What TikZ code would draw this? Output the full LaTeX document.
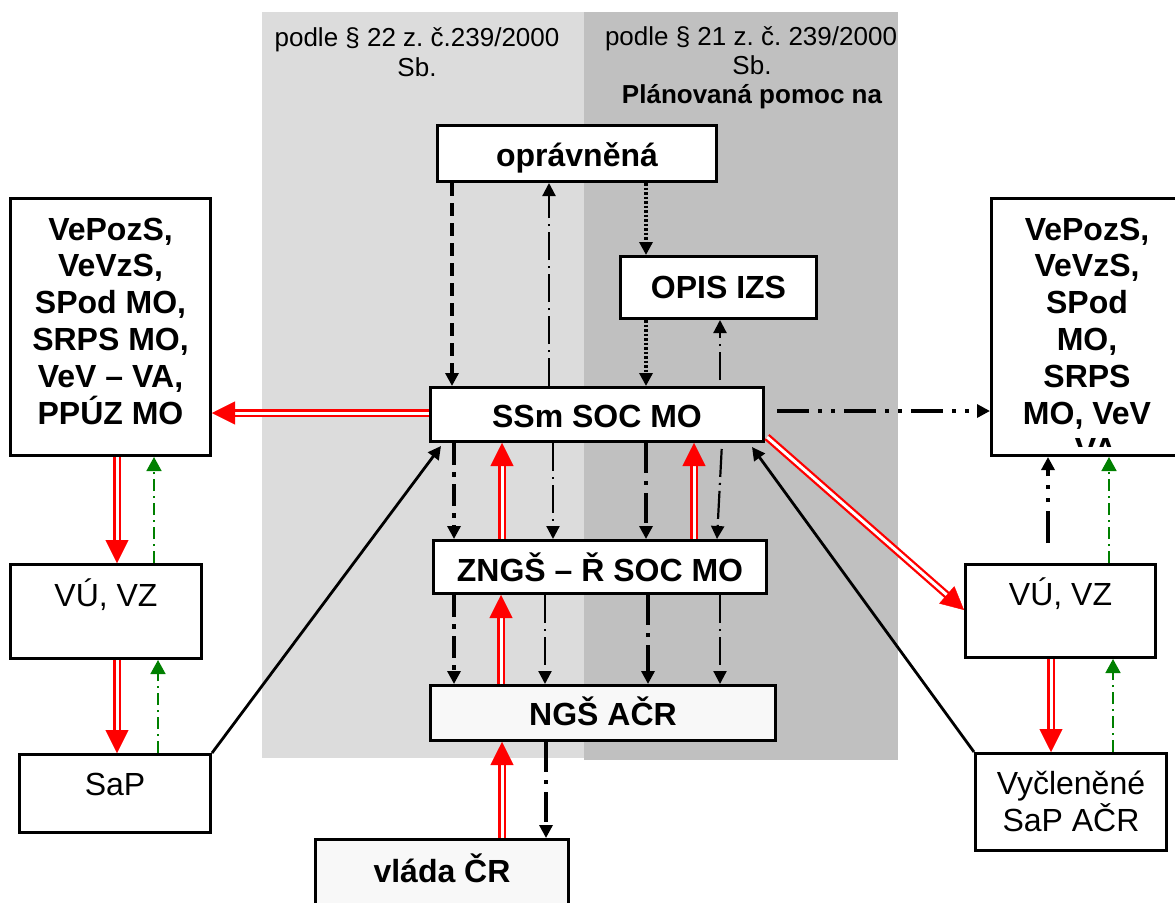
\documentclass[tikz,border=0pt]{standalone}
\usepackage{fontspec}
\setmainfont{Liberation Sans}
\usetikzlibrary{arrows.meta,decorations.markings,calc}
\definecolor{lgrey}{HTML}{DCDCDC}
\definecolor{dgrey}{HTML}{C0C0C0}
\definecolor{boxfill}{HTML}{F8F8F8}
\definecolor{dgreen}{HTML}{008000}
\definecolor{dred}{HTML}{FF0000}
\frenchspacing
\begin{document}
\begin{tikzpicture}[x=1pt,y=-1pt,
  box/.style={draw=black, line width=3pt, fill=white, rectangle, inner sep=0pt},
  gbox/.style={box, fill=boxfill},
  bt/.style={font=\fontsize{32}{36.8}\selectfont\bfseries, align=center, inner sep=0pt, anchor=base},
  rt/.style={font=\fontsize{32}{36.8}\selectfont, align=center, inner sep=0pt, anchor=base},
  ht/.style={font=\fontsize{26}{29.5}\selectfont, align=center, inner sep=0pt, anchor=base},
  blk/.style={draw=black, line width=#1, -{Triangle[length=13pt,width=13pt]}},
  dashedarr/.style={blk=3.3pt, dash pattern=on 13pt off 7pt},
  dotarr/.style={blk=4pt, dash pattern=on 2.5pt off 2pt},
  thindd/.style={blk=2.2pt, dash pattern=on 28pt off 6pt on 2pt off 6pt},
  thickdd/.style={blk=3.2pt, dash pattern=on 30pt off 8pt on 4pt off 8pt},
  meddd/.style={blk=3.2pt, dash pattern=on 22pt off 7pt on 5pt off 7pt},
  dddarr/.style={blk=3.2pt, dash pattern=on 32pt off 9pt on 4pt off 9pt on 4pt off 9pt},
  solidarr/.style={blk=2.8pt},
  greenarr/.style={draw=dgreen, line width=1.6pt, dash pattern=on 12pt off 5pt on 2pt off 5pt, -{Triangle[length=14pt,width=15pt]}},
  redarr/.style={draw=none,
    postaction={draw=dred, double=white, double distance=3pt, line width=2.3pt, shorten >=18pt},
    postaction={decorate, decoration={markings, mark=at position 1 with {\arrow{Triangle[length=23pt,width=23pt,color=dred,fill=dred]}}}}}
]
\useasboundingbox (0,0) rectangle (1175,902);

% background bands
\fill[lgrey] (262,12) rectangle (584,758);
\fill[dgrey] (584,12) rectangle (898,760);

% header texts
\node[ht] (hl1) at (417,46.7) {podle § 22 z. č.239/2000};
\node[ht] (hl2) at (417,76.5) {Sb.};
\node[ht] (hr1) at (751,45) {podle § 21 z. č. 239/2000};
\node[ht] (hr2) at (752,74) {Sb.};
\node[ht,font=\fontsize{26}{29.5}\selectfont\bfseries] (hr3) at (752,103) {Plánovaná pomoc na};

% boxes
\node[box, minimum width=279, minimum height=56] (oprav) at (577,153.5) {};
\node[box, minimum width=196, minimum height=62] (opis) at (718.5,287.5) {};
\node[box, minimum width=333, minimum height=54] (ssm) at (597,414.5) {};
\node[box, minimum width=333, minimum height=53] (zngs) at (600,567) {};
\node[gbox, minimum width=345, minimum height=55] (ngs) at (603,713) {};
\node[gbox, minimum width=253, minimum height=77] (vlada) at (442,878) {};
\node[box, minimum width=200, minimum height=257] (lbig) at (110.5,327) {};
\node[box, minimum width=191, minimum height=94] (lvu) at (106,611.5) {};
\node[box, minimum width=191, minimum height=78] (lsap) at (115,793.5) {};
\node[box, minimum width=197, minimum height=257] (rbig) at (1090,327) {};
\node[box, minimum width=190, minimum height=93] (rvu) at (1060.5,611) {};
\node[box, minimum width=191, minimum height=97] (rvyc) at (1071,802) {};

% box texts (anchor=base is the baseline of the last line)
\node[bt] (toprav) at (577,166) {oprávněná};
\node[bt] (topis) at (718.5,298) {OPIS IZS};
\node[bt] (tssm) at (597,427) {SSm SOC MO};
\node[bt] (tzngs) at (600,581) {ZNGŠ – Ř SOC MO};
\node[bt] (tngs) at (603,725) {NGŠ AČR};
\node[bt] (tvlada) at (442,882) {vláda ČR};
\node[bt] (tlbig) at (110.5,424) {VePozS,\\VeVzS,\\SPod MO,\\SRPS MO,\\VeV – VA,\\PPÚZ MO};
\begin{scope}
\clip (990,198.5) rectangle (1190,446);
\node[bt] (trbig) at (1087,460.8) {VePozS,\\VeVzS,\\SPod\\MO,\\SRPS\\MO, VeV\\– VA,};
\end{scope}
\node[rt] (tlvu) at (106,606) {VÚ, VZ};
\node[rt] (tlsap) at (115,795) {SaP};
\node[rt] (trvu) at (1060.5,605) {VÚ, VZ};
\node[rt] (trvyc) at (1071,831) {Vyčleněné\\SaP AČR};

% column coordinates
\foreach \xx in {452,454,501,502,545,546,549,553,646,648,694,717,720,722,117,154,158,1048,1051,1109,1113}
  \coordinate (x\xx) at (\xx,0);
\coordinate (y413) at (0,413);
\coordinate (y411) at (0,411);

% center column connectors
\draw[dashedarr] (oprav.south -| x452) -- (ssm.north -| x452);
\draw[thindd] (ssm.north -| x549) -- (oprav.south -| x549);
\draw[dotarr] (oprav.south -| x646) -- (opis.north -| x646);
\draw[dotarr] (opis.south -| x646) -- (ssm.north -| x646);
\draw[thindd, shorten <=6pt] (ssm.north -| x720) -- (opis.south -| x720);

\draw[meddd] (ssm.south -| x454) -- (zngs.north -| x454);
\draw[redarr] (zngs.north -| x502) -- (ssm.south -| x502);
\draw[thindd] (ssm.south -| x553) -- (zngs.north -| x553);
\draw[thickdd] (ssm.south -| x646) -- (zngs.north -| x646);
\draw[redarr] (zngs.north -| x694) -- (ssm.south -| x694);
\draw[thindd, shorten <=6pt] (ssm.south -| x722) -- (zngs.north -| x717);

\draw[meddd] (zngs.south -| x454) -- (ngs.north -| x454);
\draw[redarr] (ngs.north -| x501) -- (zngs.south -| x501);
\draw[thindd] (zngs.south -| x545) -- (ngs.north -| x545);
\draw[thickdd] (zngs.south -| x648) -- (ngs.north -| x648);
\draw[thindd] (zngs.south -| x720) -- (ngs.north -| x720);

\draw[redarr] (vlada.north -| x502) -- (ngs.south -| x502);
\draw[thickdd] (ngs.south -| x546) -- (vlada.north -| x546);

% left side
\draw[redarr] (ssm.west |- y413) -- (lbig.east |- y413);
\draw[redarr] (lbig.south -| x117) -- (lvu.north -| x117);
\draw[greenarr] (lvu.north -| x154) -- (lbig.south -| x154);
\draw[redarr] (lvu.south -| x117) -- (lsap.north -| x117);
\draw[greenarr] (lsap.north -| x158) -- (lvu.south -| x158);
\draw[solidarr] (lsap.north east) -- ($(ssm.south west)+(12,3)$);

% right side
\draw[dddarr, shorten <=12pt] (ssm.east |- y411) -- (rbig.west |- y411);
\draw[redarr] ($(ssm.south east)+(2,-6)$) -- ($(rvu.west)+(0,-1)$);
\draw[solidarr] (rvyc.north west) -- ($(ssm.south east)+(-13,4)$);
\draw[dddarr, shorten <=20pt] (rvu.north -| x1048) -- (rbig.south -| x1048);
\draw[greenarr] (rvu.north -| x1109) -- (rbig.south -| x1109);
\draw[redarr] (rvu.south -| x1051) -- (rvyc.north -| x1051);
\draw[greenarr] (rvyc.north -| x1113) -- (rvu.south -| x1113);
\end{tikzpicture}
\end{document}
